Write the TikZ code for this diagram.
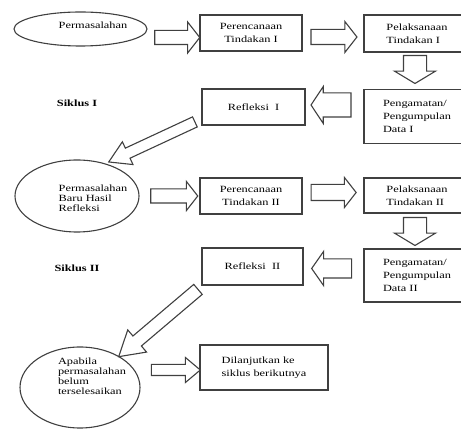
\documentclass[tikz,border=0pt]{standalone}
\usepackage{fontspec}
\setmainfont{Liberation Serif}[FakeStretch=1.3]
\usetikzlibrary{shapes.geometric,shapes.arrows,calc}
\begin{document}
\begin{tikzpicture}[x=1pt,y=-1pt,
 line/.style={draw=black!75,line width=1.1pt},
 box/.style={line, rectangle, minimum width=102pt, minimum height=36pt, inner sep=2pt, align=center, font=\fontsize{9.5}{13}\selectfont},
 rbox/.style={box, minimum width=106pt, align=left},
 oval/.style={line, ellipse, inner sep=0pt},
 otext/.style={align=left, font=\fontsize{9.5}{10}\selectfont, inner sep=0pt},
 barrow/.style={line, fill=white, single arrow, inner xsep=0pt, single arrow tip angle=104},
 darrow/.style={line, fill=white, single arrow, shape border rotate=270, inner ysep=0pt, inner xsep=11pt, minimum height=28pt, single arrow head extend=9pt, single arrow tip angle=118},
 siklus/.style={font=\bfseries\fontsize{9.5}{11}\selectfont}
]
\useasboundingbox (0,0) rectangle (461,430);

% row 1
\node[oval, minimum width=133pt, minimum height=34pt] (e1) at (80.5,29) {};
\node[otext] (t1) at (93,25) {Permasalahan};
\node[box] (p1) at (251,33) {Perencanaan\\Tindakan I};
\node[rbox, minimum height=37pt] (l1) at (417,33.5) {Pelaksanaan\\Tindakan I};
\node[rbox, minimum height=54pt] (g1) at (417,116.5) {Pengamatan/\\Pengumpulan\\Data I};
\node[box, minimum width=103pt] (r1) at (253.5,107) {Refleksi\ \ I};
\node[siklus] (s1) at (77,103) {Siklus I};

% row 2
\node[oval, minimum width=124pt, minimum height=72pt] (e2) at (77,196) {};
\node[otext] (t2) at (93,198) {Permasalahan\\Baru Hasil\\Refleksi};
\node[box] (p2) at (251,196) {Perencanaan\\Tindakan II};
\node[rbox, minimum height=35pt] (l2) at (417,195.5) {Pelaksanaan\\Tindakan II};
\node[rbox, minimum height=53pt] (g2) at (417,275.5) {Pengamatan/\\Pengumpulan\\Data II};
\node[box, minimum width=101pt, minimum height=37pt] (r2) at (252.5,266.5) {Refleksi\ \ II};
\node[siklus] (s2) at (77,268) {Siklus II};

% row 3
\node[oval, minimum width=120pt, minimum height=81pt] (e3) at (80,387.5) {};
\node[otext] (t3) at (92,376) {Apabila\\permasalahan\\belum\\terselesaikan};
\node[box, minimum width=128pt, minimum height=45pt, align=left] (d) at (264,367.5) {Dilanjutkan ke\\siklus berikutnya};

% block arrows
\node[barrow, minimum height=45pt, inner ysep=6.5pt, single arrow head extend=8.5pt] (a1) at (174.5,37.5) {};
\node[barrow, minimum height=46pt, inner ysep=7pt, single arrow head extend=8pt] (a2) at (331,37) {};
\node[darrow] (a3) at (415,66) {};
\node[barrow, shape border rotate=180, minimum height=40pt, inner ysep=11.5pt, single arrow head extend=6.5pt, single arrow tip angle=113] (a4) at (335,105) {};

\node[barrow, minimum height=47pt, inner ysep=6.5pt, single arrow head extend=7.5pt] (a5) at (171.5,196) {};
\node[barrow, minimum height=45pt, inner ysep=7.5pt, single arrow head extend=7pt] (a6) at (330.5,192.5) {};
\node[darrow] (a7) at (415,228) {};
\node[barrow, shape border rotate=180, minimum height=40pt, inner ysep=9pt, single arrow head extend=7.5pt, single arrow tip angle=110] (a8) at (335,268.5) {};

\node[barrow, minimum height=49pt, inner ysep=5pt, single arrow head extend=7pt, single arrow tip angle=80] (a9) at (172.5,370) {};

% diagonal arrows
\coordinate (d1s) at (199,120);
\coordinate (d1e) at (113,160);
\path (d1s) -- (d1e) node[midway, sloped, allow upside down, barrow, minimum height=95pt, inner ysep=5pt, single arrow head extend=7pt, single arrow tip angle=62] (da1) {};
\coordinate (d2s) at (202,286);
\coordinate (d2e) at (123,353);
\path (d2s) -- (d2e) node[midway, sloped, allow upside down, barrow, minimum height=104pt, inner ysep=6pt, single arrow head extend=8pt, single arrow tip angle=62] (da2) {};
\end{tikzpicture}
\end{document}
